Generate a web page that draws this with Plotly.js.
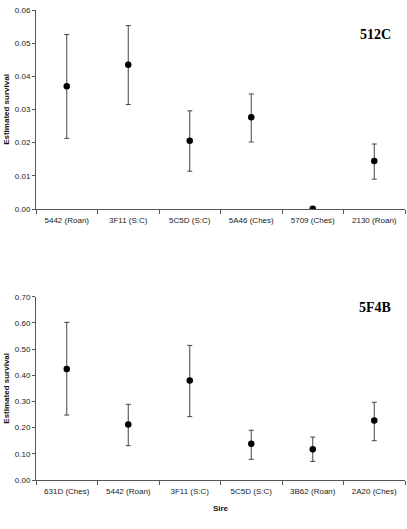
<!DOCTYPE html>
<html>
<head>
<meta charset="utf-8">
<script src="https://cdn.plot.ly/plotly-3.0.1.min.js"></script>
<style>
  html, body { margin: 0; padding: 0; background: #fff; }
  #chart { width: 407px; height: 529px; }
</style>
</head>
<body>
<div id="chart"></div>
<script>
// Sire group 512C
const siresA = ['5442 (Roan)', '3F11 (S:C)', '5C5D (S:C)', '5A46 (Ches)', '5709 (Ches)', '2130 (Roan)'];
const survivalA = [0.0370, 0.0435, 0.0206, 0.0277, 0.0001, 0.0145];
const upperA = [0.0526, 0.0553, 0.0296, 0.0347, null, 0.0196];
const lowerA = [0.0213, 0.0315, 0.0114, 0.0202, null, 0.0090];
const ticksA = [0, 0.01, 0.02, 0.03, 0.04, 0.05, 0.06];

// Sire group 5F4B
const siresB = ['631D (Ches)', '5442 (Roan)', '3F11 (S:C)', '5C5D (S:C)', '3B62 (Roan)', '2A20 (Ches)'];
const survivalB = [0.424, 0.212, 0.380, 0.138, 0.117, 0.227];
const upperB = [0.602, 0.289, 0.514, 0.190, 0.164, 0.297];
const lowerB = [0.248, 0.131, 0.242, 0.079, 0.071, 0.150];
const ticksB = [0, 0.1, 0.2, 0.3, 0.4, 0.5, 0.6, 0.7];

const panelA = '512C';
const panelB = '5F4B';
const yTitle = 'Estimated survival';
const xTitle = 'Sire';

function diffs(hi, lo, mid) {
  return {
    plus: hi.map((h, i) => h == null ? 0 : h - mid[i]),
    minus: lo.map((l, i) => l == null ? 0 : mid[i] - l)
  };
}

function trace(x, y, hi, lo, xa, ya) {
  const d = diffs(hi, lo, y);
  return {
    type: 'scatter', mode: 'markers', x: x, y: y, xaxis: xa, yaxis: ya,
    marker: { color: '#000', size: 6.5 },
    error_y: {
      type: 'data', symmetric: false, array: d.plus, arrayminus: d.minus,
      color: '#444', thickness: 1, width: 2.5
    },
    hoverinfo: 'x+y', showlegend: false
  };
}

const font = { family: 'Liberation Sans, Arial, sans-serif', size: 8, color: '#222' };
const titleFont = { family: font.family, size: 8, color: '#111', weight: 'bold' };
const panelFont = { family: 'Liberation Serif, Times New Roman, serif', size: 14, color: '#000', weight: 'bold' };

const xCommon = {
  type: 'category', range: [-0.5, 5.5], showline: true, linecolor: '#555', linewidth: 1,
  ticks: 'outside', tickson: 'boundaries', ticklen: 4, tickcolor: '#555',
  ticklabelstandoff: 3,
  showgrid: false, zeroline: false, tickfont: font, fixedrange: true
};
const yCommon = {
  showline: true, linecolor: '#555', linewidth: 1, ticks: 'outside', ticklen: 3,
  tickcolor: '#555', showgrid: false, zeroline: false, tickfont: font, fixedrange: true
};

const layout = {
  width: 407, height: 529,
  margin: { l: 36, r: 2, t: 10, b: 49 },
  paper_bgcolor: '#fff', plot_bgcolor: '#fff',
  font: font,
  showlegend: false,
  xaxis: Object.assign({}, xCommon, { domain: [0, 1], anchor: 'y' }),
  yaxis: Object.assign({}, yCommon, {
    domain: [0.5766, 1], anchor: 'x', range: [0, 0.06], tickvals: ticksA,
    ticktext: ticksA.map(v => v.toFixed(2)),
    title: { text: yTitle, font: titleFont, standoff: 4 }
  }),
  xaxis2: Object.assign({}, xCommon, {
    domain: [0, 1], anchor: 'y2',
    title: { text: xTitle, font: titleFont, standoff: 10 }
  }),
  yaxis2: Object.assign({}, yCommon, {
    domain: [0, 0.39], anchor: 'x2', range: [0, 0.7], tickvals: ticksB,
    ticktext: ticksB.map(v => v.toFixed(2)),
    title: { text: yTitle, font: titleFont, standoff: 4 }
  }),
  annotations: [
    { text: panelA, xref: 'paper', yref: 'y', x: 0.92, y: 0.0526, xanchor: 'center', yanchor: 'middle',
      showarrow: false, font: panelFont },
    { text: panelB, xref: 'paper', yref: 'y2', x: 0.92, y: 0.657, xanchor: 'center', yanchor: 'middle',
      showarrow: false, font: panelFont }
  ]
};

Plotly.newPlot('chart', [
  trace(siresA, survivalA, upperA, lowerA, 'x', 'y'),
  trace(siresB, survivalB, upperB, lowerB, 'x2', 'y2')
], layout, { staticPlot: true, displayModeBar: false });
</script>
</body>
</html>
